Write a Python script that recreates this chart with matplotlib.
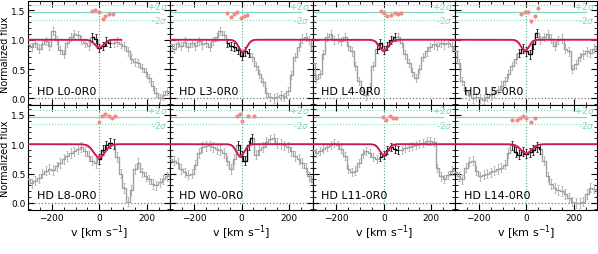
import numpy as np
import matplotlib.pyplot as plt
from matplotlib.ticker import MultipleLocator

# velocity grid of the binned spectra (km/s)
vel = np.arange(-300, 301, 15)

names = ['HD L0-0R0', 'HD L3-0R0', 'HD L4-0R0', 'HD L5-0R0',
         'HD L8-0R0', 'HD W0-0R0', 'HD L11-0R0', 'HD L14-0R0']

flux_L0 = [0.93, 0.88, 0.95, 0.85, 0.92, 0.98, 0.90, 1.15, 1.00, 0.82, 0.76, 0.95, 1.05, 1.10,
           1.08, 1.00, 0.95, 0.90, 1.05, 1.02, 0.86, 0.90, 0.97, 0.95, 0.95, 0.97, 0.93, 0.90,
           0.80, 0.68, 0.62, 0.60, 0.52, 0.45, 0.35, 0.22, 0.10, 0.00, 0.05, 0.12, 0.10]
flux_L3 = [0.92, 0.85, 0.95, 0.90, 0.97, 0.88, 0.95, 0.90, 0.98, 0.92, 0.95, 0.88, 0.98, 1.05,
           1.15, 1.08, 0.95, 0.90, 0.88, 0.82, 0.72, 0.80, 0.78, 0.70, 0.55, 0.42, 0.28, 0.10,
           0.02, 0.00, 0.02, 0.05, 0.03, 0.12, 0.40, 0.70, 0.88, 1.02, 1.05, 1.00, 0.83]
flux_L4 = [0.60, 0.33, 0.42, 0.75, 1.05, 1.10, 1.00, 1.02, 0.98, 1.05, 0.90, 0.80, 0.55, 0.30,
           0.12, 0.05, 0.20, 0.55, 0.85, 0.95, 0.83, 0.90, 1.00, 1.05, 1.05, 0.95, 0.75, 0.60,
           0.45, 0.35, 0.50, 0.70, 0.80, 0.88, 0.92, 0.90, 0.95, 0.92, 0.95, 0.90, 0.85]
flux_L5 = [0.80, 0.60, 0.30, 0.12, 0.05, 0.00, 0.02, 0.00, -0.02, 0.02, 0.05, 0.10, 0.15, 0.22,
           0.30, 0.42, 0.55, 0.68, 0.78, 0.85, 0.80, 0.75, 0.92, 1.12, 1.00, 1.05, 1.10, 1.02,
           0.90, 1.00, 1.02, 0.85, 0.80, 0.50, 0.58, 0.70, 0.75, 0.80, 0.78, 0.85, 0.90]
flux_L8 = [0.40, 0.33, 0.38, 0.42, 0.50, 0.55, 0.58, 0.56, 0.62, 0.68, 0.75, 0.80, 0.85, 0.88,
           0.92, 0.95, 0.88, 0.80, 0.72, 0.68, 0.75, 0.90, 0.98, 1.02, 1.00, 0.78, 0.50, 0.25,
           0.02, 0.22, 0.58, 0.68, 0.52, 0.45, 0.40, 0.32, 0.30, 0.35, 0.40, 0.45, 0.50]
flux_W0 = [0.75, 0.72, 0.68, 0.58, 0.52, 0.48, 0.50, 0.65, 0.85, 0.95, 0.97, 0.98, 0.95, 0.92,
           0.90, 0.85, 0.72, 0.58, 0.75, 0.98, 0.80, 0.72, 0.98, 1.10, 0.82, 0.90, 0.95, 1.04,
           1.08, 1.10, 1.02, 1.00, 0.98, 0.95, 0.88, 0.80, 0.75, 0.68, 0.60, 0.45, 0.35]
flux_L11 = [0.90, 0.85, 0.88, 0.92, 0.95, 0.98, 1.02, 0.98, 0.92, 0.80, 0.58, 0.52, 0.55, 0.68,
            0.84, 0.88, 0.85, 0.78, 0.75, 0.78, 0.82, 0.90, 0.95, 0.92, 0.90, 0.90, 0.93, 0.95,
            0.97, 0.98, 1.00, 1.02, 1.06, 1.05, 1.04, 0.60, 0.45, 0.40, 0.47, 0.55, 0.58]
flux_L14 = [0.52, 0.45, 0.40, 0.60, 0.70, 0.72, 0.55, 0.45, 0.48, 0.50, 0.52, 0.55, 0.58, 0.60,
            0.65, 0.85, 0.98, 0.87, 0.82, 0.88, 0.84, 0.86, 0.90, 0.95, 0.92, 0.72, 0.45, 0.32,
            0.25, 0.22, 0.20, 0.15, 0.08, 0.02, 0.00, 0.00, 0.02, 0.15, 0.26, 0.24, 0.20]
fluxes = [flux_L0, flux_L3, flux_L4, flux_L5, flux_L8, flux_W0, flux_L11, flux_L14]
flux_err = [0.07, 0.07, 0.07, 0.07, 0.08, 0.08, 0.07, 0.08]

# fitted window (km/s)
fit_lo = [-30, -60, -30, -30, 0, -15, -15, -60]
fit_hi = [45, 30, 45, 45, 60, 45, 60, 60]

# gaussian model: depth, centre, width (km/s), upper end of drawn model
model_depth = [0.13, 0.20, 0.18, 0.18, 0.22, 0.20, 0.18, 0.15]
model_cen = [0, 5, 0, -5, 0, -5, 0, 0]
model_sig = [20, 18, 20, 18, 25, 18, 18, 24]
model_end = [93, 300, 300, 300, 300, 300, 300, 300]

# residuals (velocity, value)
res_v = [[-31, -17, 0, 14, 25, 43, 57],
         [-60, -46, -32, -18, -4, 10, 24],
         [-14, 0, 14, 28, 45, 59, 73],
         [-20, -6, 8, 22, 36, 50],
         [-3, 11, 25, 39, 53, 67],
         [-18, -8, 3, 28, 52],
         [-4, 10, 24, 38, 52],
         [-61, -40, -26, -13, 1, 22, 36]]
res_y = [[1.49, 1.51, 1.47, 1.35, 1.41, 1.44, 1.44],
         [1.46, 1.39, 1.44, 1.47, 1.37, 1.41, 1.42],
         [1.49, 1.46, 1.41, 1.42, 1.45, 1.44, 1.46],
         [1.44, 1.47, 1.47, 1.32, 1.41, 1.54],
         [1.38, 1.48, 1.51, 1.48, 1.45, 1.48],
         [1.48, 1.51, 1.40, 1.48, 1.48],
         [1.46, 1.42, 1.48, 1.45, 1.44],
         [1.42, 1.42, 1.45, 1.48, 1.45, 1.38, 1.45]]
res_base = 1.465
res_2sig = 0.125

green = '#7fd9bd'
red = '#e8336b'

fig, axes = plt.subplots(2, 4, figsize=(5.98, 2.55), dpi=100, sharex=True, sharey=True)
fig.subplots_adjust(left=0.047, right=0.999, top=0.992, bottom=0.173, wspace=0, hspace=0)

for i, ax in enumerate(axes.flat):
    f = np.array(fluxes[i])
    e = flux_err[i]
    ax.axhline(0, color='#777777', ls=':', lw=0.9, zorder=1)
    ax.axvline(0, color='#4fae8e', ls=':', lw=0.8, zorder=1)

    ax.errorbar(vel, f, yerr=e, fmt='none', ecolor='#b5b5b5', elinewidth=0.7,
                capsize=0.8, capthick=0.6, zorder=2)
    ax.step(vel, f, where='mid', color='#a0a0a0', lw=1.0, zorder=3)

    m = (vel >= fit_lo[i]) & (vel <= fit_hi[i])
    ax.errorbar(vel[m], f[m], yerr=e, fmt='none', ecolor='#222222', elinewidth=0.6,
                capsize=0.8, capthick=0.6, zorder=4)
    ax.step(vel[m], f[m], where='mid', color='black', lw=0.9, zorder=5)

    vm = np.linspace(-300, model_end[i], 400)
    prof = np.exp(-0.5 * ((vm - model_cen[i]) / model_sig[i]) ** 2)
    ax.plot(vm, 1 - model_depth[i] * prof, color=red, lw=1.4, zorder=6)
    ax.plot(vm, 1 - 1.15 * model_depth[i] * np.exp(-0.5 * ((vm - model_cen[i]) / (0.85 * model_sig[i])) ** 2),
            color='#b0103a', lw=0.6, zorder=6)

    # residual strip
    ax.plot([-300, 250], [res_base, res_base], color=green, lw=0.9, zorder=2)
    ax.plot([-300, 250], [res_base + res_2sig] * 2, color=green, lw=0.8, ls=':', zorder=2)
    ax.plot([-300, 250], [res_base - res_2sig] * 2, color=green, lw=0.8, ls=':', zorder=2)
    ax.text(290, res_base + res_2sig, r'+2$\sigma$', color=green, fontsize=6.5,
            ha='right', va='center', zorder=2)
    ax.text(290, res_base - res_2sig, r'-2$\sigma$', color=green, fontsize=6.5,
            ha='right', va='center', zorder=2)
    ax.plot(res_v[i], res_y[i], 'o', color='#f28a8a', ms=3, mew=0, zorder=7)

    ax.text(0.06, 0.09, names[i], transform=ax.transAxes, fontsize=8,
            ha='left', va='bottom', zorder=8)

    ax.set_xlim(-300, 300)
    ax.set_ylim(-0.12, 1.66)
    ax.xaxis.set_major_locator(MultipleLocator(200))
    ax.xaxis.set_minor_locator(MultipleLocator(50))
    ax.yaxis.set_major_locator(MultipleLocator(0.5))
    ax.yaxis.set_minor_locator(MultipleLocator(0.1))
    ax.tick_params(which='both', direction='in', top=True, right=True, labelsize=6.5, pad=2)
    ax.tick_params(which='major', length=4, width=0.8)
    ax.tick_params(which='minor', length=2, width=0.6)

for ax in axes[:, 0]:
    ax.set_ylabel('Normalized flux', fontsize=7, labelpad=1)
for ax in axes[1, :]:
    ax.set_xlabel(r'v [km s$^{-1}$]', fontsize=8, labelpad=1)

fig.savefig('out.png', dpi=100)
